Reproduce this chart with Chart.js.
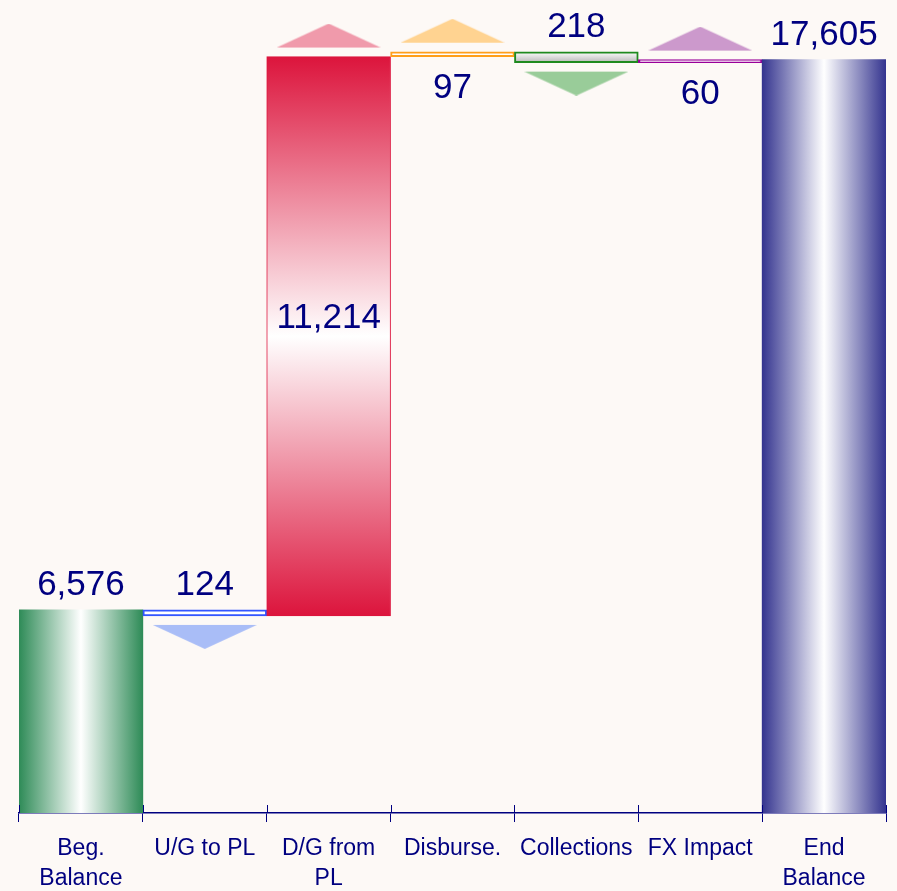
<!DOCTYPE html>
<html>
<head>
<meta charset="utf-8">
<script src="https://cdn.jsdelivr.net/npm/chart.js@4/dist/chart.umd.min.js"></script>
<style>
  html, body { margin: 0; padding: 0; background: #fdf9f6; }
  #wrap { width: 897px; height: 891px; }
</style>
</head>
<body>
<div id="wrap"><canvas id="waterfall"></canvas></div>
<script>
// chart data
var categories = [['Beg.', 'Balance'], 'U/G to PL', ['D/G from', 'PL'], 'Disburse.', 'Collections', 'FX Impact', ['End', 'Balance']];
var steps = [6576, -124, 11214, 97, -218, 60, 17605];
var isTotal = [true, false, false, false, false, false, true];

// colours
var navy = '#000080';
var edgeColors = ['#2e8b57', '#3355ff', '#dc143c', '#ff9f1a', '#1f8a1f', '#990099', '#34348f'];
var arrowColors = [null, '#a9bdf7', '#f09aab', '#ffd391', '#99cc99', '#cc99cc', null];

// floating bar ranges from the running total
var ranges = [];
var arrowValues = [];
var running = 0;
for (var i = 0; i < steps.length; i++) {
    if (isTotal[i]) {
        ranges.push([2500, steps[i]]);
        running = steps[i];
        arrowValues.push(null);
    } else {
        var next = running + steps[i];
        ranges.push([Math.min(running, next), Math.max(running, next)]);
        arrowValues.push(next); // arrow sits at the end of the step
        running = next;
    }
}

function makeArrow(color, up) {
    var w = 104, h = 24, gap = 9;
    var c = document.createElement('canvas');
    c.width = w;
    c.height = 2 * (h + gap);
    var g = c.getContext('2d');
    g.fillStyle = color;
    g.beginPath();
    if (up) {
        g.moveTo(w / 2, 0);
        g.lineTo(w, h);
        g.lineTo(0, h);
    } else {
        g.moveTo(0, c.height - h);
        g.lineTo(w, c.height - h);
        g.lineTo(w / 2, c.height);
    }
    g.closePath();
    g.fill();
    return c;
}

var arrowStyles = steps.map(function(v, i) {
    return arrowColors[i] ? makeArrow(arrowColors[i], v > 0) : 'circle';
});

function barFill(ctx) {
    if (ctx.type !== 'data') return '#ffffff';
    var chart = ctx.chart;
    if (!chart.chartArea) return '#ffffff';
    var i = ctx.dataIndex;
    var xs = chart.scales.x, ys = chart.scales.y;
    var half = (xs.getPixelForValue(1) - xs.getPixelForValue(0)) / 2;
    var cx = xs.getPixelForValue(i);
    var c = chart.ctx;
    var grad;
    if (isTotal[i]) {
        grad = c.createLinearGradient(cx - half, 0, cx + half, 0);
        grad.addColorStop(0, edgeColors[i]);
        grad.addColorStop(0.5, '#ffffff');
        grad.addColorStop(1, edgeColors[i]);
        return grad;
    }
    var top = ys.getPixelForValue(ranges[i][1]);
    var bottom = ys.getPixelForValue(ranges[i][0]);
    if (i === 2) {
        grad = c.createLinearGradient(0, top, 0, bottom);
        grad.addColorStop(0, '#dc143c');
        grad.addColorStop(0.5, '#ffffff');
        grad.addColorStop(1, '#dc143c');
        return grad;
    }
    if (i === 4) {
        grad = c.createLinearGradient(0, top, 0, bottom);
        grad.addColorStop(0, '#ffffff');
        grad.addColorStop(1, '#b8b8b8');
        return grad;
    }
    return '#ffffff';
}

var bgPlugin = {
    id: 'bg',
    beforeDraw: function(chart) {
        var c = chart.ctx;
        c.save();
        c.fillStyle = '#fdf9f6';
        c.fillRect(0, 0, chart.width, chart.height);
        c.restore();
    }
};

var labelPlugin = {
    id: 'valueLabels',
    afterDatasetsDraw: function(chart) {
        var c = chart.ctx;
        var meta = chart.getDatasetMeta(1);
        c.save();
        c.font = '35px "Liberation Sans", Arial, sans-serif';
        c.fillStyle = navy;
        c.textAlign = 'center';
        c.textBaseline = 'alphabetic';
        meta.data.forEach(function(bar, i) {
            var text = Math.abs(steps[i]).toLocaleString('en-US');
            var top = Math.min(bar.y, bar.base);
            var bottom = Math.max(bar.y, bar.base);
            var y;
            if (isTotal[i] || steps[i] < 0) {
                y = top - 15;
            } else if (bottom - top > 100) {
                y = (top + bottom) / 2 - 8;
            } else {
                y = bottom + 41;
            }
            c.fillText(text, bar.x, y);
        });
        // upper half of the axis tick marks
        var xs = chart.scales.x;
        var w = xs.getPixelForValue(1) - xs.getPixelForValue(0);
        c.strokeStyle = navy;
        c.lineWidth = 1;
        c.beginPath();
        for (var k = 0; k <= categories.length; k++) {
            var x = Math.round(xs.getPixelForValue(0) - w / 2 + k * w) + 0.5;
            c.moveTo(x, chart.chartArea.bottom - 8);
            c.lineTo(x, chart.chartArea.bottom);
        }
        c.stroke();
        c.restore();
    }
};

var ctx = document.getElementById('waterfall').getContext('2d');
var waterfallChart = new Chart(ctx, {
    type: 'bar',
    data: {
        labels: categories,
        datasets: [{
            type: 'line',
            data: arrowValues,
            showLine: false,
            pointStyle: arrowStyles,
            pointRadius: 10,
            order: 0
        }, {
            data: ranges,
            backgroundColor: barFill,
            borderColor: edgeColors,
            borderWidth: [0, 2, 1, 2, 2, 2, 0],
            borderSkipped: false,
            barPercentage: 1,
            categoryPercentage: 1,
            order: 1
        }]
    },
    options: {
        responsive: true,
        maintainAspectRatio: false,
        animation: false,
        events: [],
        layout: {
            autoPadding: false,
            padding: { left: 19, right: 11, top: 0, bottom: -15 }
        },
        plugins: {
            legend: { display: false },
            tooltip: { enabled: false }
        },
        scales: {
            x: {
                offset: true,
                grid: {
                    offset: true,
                    drawOnChartArea: false,
                    drawTicks: true,
                    tickLength: 9,
                    color: navy
                },
                border: { color: navy, width: 1.5 },
                ticks: {
                    color: navy,
                    padding: 12,
                    maxRotation: 0,
                    autoSkip: false,
                    font: { family: '"Liberation Sans", Arial, sans-serif', size: 23, lineHeight: 1.304 }
                }
            },
            y: {
                display: false,
                min: 2500,
                max: 18800
            }
        }
    },
    plugins: [bgPlugin, labelPlugin]
});
</script>
</body>
</html>
